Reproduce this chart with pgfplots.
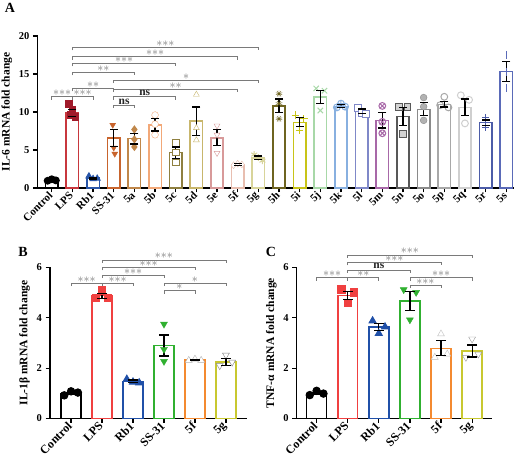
\documentclass[border=0pt]{standalone}
\usepackage{pgfplots}
\pgfplotsset{compat=1.18}
\usetikzlibrary{plotmarks}
\usepackage{fontspec}
\setmainfont{Liberation Serif}

\definecolor{cLPS}{HTML}{C8373D}
\definecolor{pLPS}{HTML}{A01A2A}
\definecolor{cRb}{HTML}{2855A8}
\definecolor{cSS}{HTML}{C8642D}
\definecolor{c5a}{HTML}{C0874A}
\definecolor{c5b}{HTML}{F2A878}
\definecolor{c5c}{HTML}{8F8040}
\definecolor{c5d}{HTML}{C8B66C}
\definecolor{c5e}{HTML}{D89A9A}
\definecolor{c5f}{HTML}{E8BEB0}
\definecolor{c5g}{HTML}{D8D49A}
\definecolor{c5h}{HTML}{6E6420}
\definecolor{c5i}{HTML}{C8C418}
\definecolor{c5j}{HTML}{A8D8A8}
\definecolor{c5k}{HTML}{88B0E0}
\definecolor{c5l}{HTML}{7F88C8}
\definecolor{c5m}{HTML}{A868A8}
\definecolor{c5n}{HTML}{585858}
\definecolor{c5o}{HTML}{8A8A8A}
\definecolor{c5p}{HTML}{A8A8A8}
\definecolor{c5q}{HTML}{CFCFCF}
\definecolor{c5r}{HTML}{4C5CA8}
\definecolor{c5s}{HTML}{5A6AB8}
\definecolor{bLPS}{HTML}{F04040}
\definecolor{bRb}{HTML}{2050A8}
\definecolor{bSS}{HTML}{30B030}
\definecolor{b5f}{HTML}{F48A30}
\definecolor{b5g}{HTML}{C8C830}
\definecolor{stargray}{HTML}{7A7A7A}

\pgfplotsset{
  prism/.style={
    scale only axis, axis x line*=bottom, axis y line*=left,
    axis line style={line width=1.3pt, black},
    tick style={line width=1.2pt, black}, major tick length=4.5pt, tick align=outside,
    ymin=0, clip=false,
    /pgf/number format/assume math mode=true,
    yticklabel style={font=\bfseries\fontsize{10.5}{12}\selectfont},
    xticklabel style={font=\bfseries\fontsize{11}{12}\selectfont, rotate=45, anchor=east, inner sep=1.5pt},
    ylabel style={font=\bfseries\fontsize{11.5}{13}\selectfont},
  },
  barA/.style={ybar, bar shift=0pt, bar width=0.6, fill=white, line width=1.5pt, draw=#1, forget plot},
  barB/.style={ybar, bar shift=0pt, bar width=0.64, fill=white, line width=1.5pt, draw=#1, forget plot},
  pts/.style={only marks, mark size=3.4pt, forget plot, mark options={solid, line width=1pt}},
  ebs/.style={black, line width=1.2pt, mark=-, mark size=#1, mark options={solid, line width=1.2pt}, forget plot},
}
\tikzset{
  brk/.style={stargray, line width=0.8pt},
  sig/.style={anchor=south, inner sep=0.6pt, text=stargray, font=\bfseries\fontsize{11.5}{11}\selectfont},
}
\newcommand{\st}{{\ast}}
\newcommand{\brk}[4]{\draw[brk] ([yshift=-3pt]axis cs:#1,#3) -- (axis cs:#1,#3) -- node[sig]{#4} (axis cs:#2,#3) -- ([yshift=-3pt]axis cs:#2,#3);}
\newcommand{\three}{$\st\st\st$}
\newcommand{\two}{$\st\st$}
\newcommand{\one}{$\st$}
\newcommand{\ns}{\textcolor{black!85}{ns}}
\newcommand{\ebA}[3]{\addplot[ebs=4pt] coordinates {(#1,#2) (#1,#3)};}
\newcommand{\ebB}[3]{\addplot[ebs=5pt] coordinates {(#1,#2) (#1,#3)};}

\begin{document}
\begin{tikzpicture}
\useasboundingbox (0,0) rectangle (524pt,462pt);

% ---------------- Panel A ----------------
\begin{axis}[prism, at={(37.5pt,274pt)}, anchor=south west, width=476pt, height=152pt,
  xmin=-0.69, xmax=22.35, ymax=20, ytick={0,5,10,15,20},
  xtick={0,...,22},
  xticklabels={Control,LPS,Rb1,SS-31,5a,5b,5c,5d,5e,5f,5g,5h,5i,5j,5k,5l,5m,5n,5o,5p,5q,5r,5s},
  ylabel={IL-6 mRNA fold change}]
\addplot[barA=black] coordinates {(0,1.02)};
\addplot[barA=cLPS] coordinates {(1,9.9)};
\addplot[barA=cRb] coordinates {(2,1.3)};
\addplot[barA=cSS] coordinates {(3,6.6)};
\addplot[barA=c5a] coordinates {(4,6.5)};
\addplot[barA=c5b] coordinates {(5,8.3)};
\addplot[barA=c5c] coordinates {(6,4.65)};
\addplot[barA=c5d] coordinates {(7,8.8)};
\addplot[barA=c5e] coordinates {(8,6.6)};
\addplot[barA=c5f] coordinates {(9,3.1)};
\addplot[barA=c5g] coordinates {(10,3.95)};
\addplot[barA=c5h] coordinates {(11,10.8)};
\addplot[barA=c5i] coordinates {(12,8.65)};
\addplot[barA=c5j] coordinates {(13,11.95)};
\addplot[barA=c5k] coordinates {(14,10.75)};
\addplot[barA=c5l] coordinates {(15,10.1)};
\addplot[barA=c5m] coordinates {(16,8.9)};
\addplot[barA=c5n] coordinates {(17,9.4)};
\addplot[barA=c5o] coordinates {(18,10.35)};
\addplot[barA=c5p] coordinates {(19,11.0)};
\addplot[barA=c5q] coordinates {(20,10.6)};
\addplot[barA=c5r] coordinates {(21,8.6)};
\addplot[barA=c5s] coordinates {(22,15.3)};
% points
\addplot[pts, black, mark=*] coordinates {(-0.2,0.95) (0,1.15) (0.2,1.0)};
\addplot[pts, pLPS, mark=square*] coordinates {(0.85,11.0) (1,10.3) (1.15,9.3) (0.95,9.6)};
\addplot[pts, cRb, mark=triangle*] coordinates {(1.8,1.55) (2,1.2) (2.2,1.25)};
\addplot[pts, cSS, mark=triangle*, mark options={rotate=180}] coordinates {(2.95,8.3) (3,5.3) (3.05,4.5)};
\addplot[pts, c5a, mark=diamond*] coordinates {(4,7.7) (4,6.4) (4,5.4)};
\addplot[pts, c5b, mark=*, mark options={fill=white}] coordinates {(5,9.6) (5,8.4) (5,7.0)};
\addplot[pts, c5c, mark=square*, mark options={fill=white}] coordinates {(6,6.0) (6,4.7) (6,3.4)};
\addplot[pts, c5d, mark=triangle*, mark options={fill=white}] coordinates {(7,12.3) (7,7.9) (7,6.3)};
\addplot[pts, c5e, mark=triangle*, mark options={fill=white, rotate=180}] coordinates {(8,8.2) (8,7.0) (8,4.6)};
\addplot[pts, c5f, mark=diamond*, mark options={fill=white}] coordinates {(8.8,3.0) (9,3.2) (9.2,3.1)};
\addplot[pts, c5g, mark=asterisk] coordinates {(9.8,4.4) (10,4.0) (10.2,3.6)};
\addplot[pts, c5h, mark=10-pointed star, mark options={fill=c5h}] coordinates {(11,12.4) (11,11.1) (11,9.1)};
\addplot[pts, c5i, mark=+, mark size=3.8pt] coordinates {(11.8,9.6) (12.2,9.1) (12,7.6)};
\addplot[pts, c5j, mark=x, mark size=3.8pt] coordinates {(12.8,13.1) (13.2,12.8) (13,10.2)};
\addplot[pts, c5k, mark=oplus] coordinates {(13.8,10.6) (14,11.1) (14.2,10.7)};
\addplot[pts, c5l, mark=square*, mark options={fill=white}] coordinates {(14.8,10.6) (15,9.9) (15.2,9.8)};
\addplot[pts, c5m, mark=otimes] coordinates {(16,10.8) (16,8.7) (16,7.2)};
\addplot[pts, c5n, mark=square*, mark options={fill=gray!35}] coordinates {(16.8,10.7) (17.2,10.7) (17,7.1)};
\addplot[pts, c5o, mark=*, mark options={fill=gray!60}] coordinates {(18,11.9) (18,10.7) (18,8.9)};
\addplot[pts, c5p, mark=o] coordinates {(19,12.0) (18.8,10.9) (19.2,10.6)};
\addplot[pts, c5q, mark=o] coordinates {(19.8,12.2) (20.2,11.6) (20,8.5)};
\addplot[pts, c5r, mark=+] coordinates {(21,9.3) (21,8.6) (21,8.0)};
\addplot[pts, c5s, mark=|, mark size=4pt] coordinates {(22,17.5) (22,15.3) (22,13.1)};
% error bars (mean - SEM, mean + SEM)
\ebA{0}{0.94}{1.10}
\ebA{1}{9.45}{10.35}
\ebA{2}{1.18}{1.42}
\ebA{3}{5.5}{7.7}
\ebA{4}{5.8}{7.2}
\ebA{5}{7.5}{9.1}
\ebA{6}{3.9}{5.4}
\ebA{7}{6.95}{10.65}
\ebA{8}{5.55}{7.65}
\ebA{9}{3.0}{3.2}
\ebA{10}{3.7}{4.2}
\ebA{11}{9.9}{11.7}
\ebA{12}{8.05}{9.25}
\ebA{13}{11.1}{12.8}
\ebA{14}{10.55}{10.95}
\ebA{15}{9.8}{10.4}
\ebA{16}{7.9}{9.9}
\ebA{17}{8.25}{10.55}
\ebA{18}{9.5}{11.2}
\ebA{19}{10.65}{11.35}
\ebA{20}{9.5}{11.7}
\ebA{21}{8.25}{8.95}
\ebA{22}{14.0}{16.6}
\brk{0}{1}{12.0}{\three}
\brk{1}{2}{12.0}{\three}
\brk{1}{3}{13.1}{\two}
\brk{1}{4}{15.2}{\two}
\brk{1}{6}{16.4}{\three}
\brk{1}{9}{17.3}{\three}
\brk{1}{10}{18.5}{\three}
\brk{3}{10}{14.2}{\one}
\brk{3}{9}{13.0}{\two}
\brk{3}{6}{12.0}{\ns}
\brk{3}{4}{10.9}{\ns}
\end{axis}

% ---------------- Panel B ----------------
\begin{axis}[prism, at={(50pt,43.5pt)}, anchor=south west, width=197pt, height=151pt,
  xmin=-0.68, xmax=5.68, ymax=6, ytick={0,2,4,6},
  xtick={0,...,5}, xticklabels={Control,LPS,Rb1,SS-31,5f,5g},
  xticklabel style={font=\bfseries\fontsize{12}{13}\selectfont},
  ylabel={IL-1β mRNA fold change}]
\addplot[barB=black] coordinates {(0,1.0)};
\addplot[barB=bLPS] coordinates {(1,4.88)};
\addplot[barB=bRb] coordinates {(2,1.48)};
\addplot[barB=bSS] coordinates {(3,2.9)};
\addplot[barB=b5f] coordinates {(4,2.32)};
\addplot[barB=b5g] coordinates {(5,2.25)};
\addplot[pts, black, mark=*, mark size=3.7pt] coordinates {(-0.22,0.92) (0,1.08) (0.22,1.03)};
\addplot[pts, bLPS, mark=square*, mark size=3.7pt] coordinates {(0.8,4.78) (1,5.08) (1.2,4.78)};
\addplot[pts, bRb, mark=triangle*, mark size=4pt] coordinates {(1.8,1.56) (2,1.45) (2.2,1.42)};
\addplot[pts, bSS, mark=triangle*, mark size=4pt, mark options={rotate=180}] coordinates {(3,3.75) (3,2.75) (3,2.27)};
\addplot[pts, gray!60, mark=triangle*, mark size=4pt, mark options={fill=white}] coordinates {(3.8,2.31) (4,2.36) (4.2,2.31)};
\addplot[pts, gray, mark=triangle*, mark size=4pt, mark options={fill=white, rotate=180}] coordinates {(4.8,2.1) (5,2.52) (5.2,2.24)};
\ebB{0}{0.96}{1.04}
\ebB{1}{4.78}{4.98}
\ebB{2}{1.43}{1.53}
\ebB{3}{2.48}{3.32}
\ebB{4}{2.29}{2.35}
\ebB{5}{2.12}{2.38}
\brk{0}{1}{5.38}{\three}
\brk{1}{2}{5.38}{\three}
\brk{1}{3}{5.7}{\three}
\brk{1}{4}{6.0}{\three}
\brk{1}{5}{6.3}{\three}
\brk{3}{5}{5.38}{\one}
\brk{3}{4}{5.08}{\one}
\end{axis}

% ---------------- Panel C ----------------
\begin{axis}[prism, at={(296.7pt,43.5pt)}, anchor=south west, width=195pt, height=151pt,
  xmin=-0.64, xmax=5.63, ymax=6, ytick={0,2,4,6},
  xtick={0,...,5}, xticklabels={Control,LPS,Rb1,SS-31,5f,5g},
  xticklabel style={font=\bfseries\fontsize{12}{13}\selectfont},
  ylabel={TNF-α mRNA fold change}]
\addplot[barB=black] coordinates {(0,0.99)};
\addplot[barB=bLPS] coordinates {(1,4.89)};
\addplot[barB=bRb] coordinates {(2,3.64)};
\addplot[barB=bSS] coordinates {(3,4.67)};
\addplot[barB=b5f] coordinates {(4,2.79)};
\addplot[barB=b5g] coordinates {(5,2.68)};
\addplot[pts, black, mark=*, mark size=3.7pt] coordinates {(-0.22,0.93) (0,1.1) (0.22,0.99)};
\addplot[pts, bLPS, mark=square*, mark size=3.7pt] coordinates {(0.8,5.12) (1,4.58) (1.2,5.0)};
\addplot[pts, bRb, mark=triangle*, mark size=4pt] coordinates {(1.8,3.88) (2,3.38) (2.2,3.64)};
\addplot[pts, bSS, mark=triangle*, mark size=4pt, mark options={rotate=180}] coordinates {(2.8,5.12) (3,3.92) (3.2,5.01)};
\addplot[pts, gray!50, mark=triangle*, mark size=4pt, mark options={fill=white}] coordinates {(4,3.36) (3.8,2.43) (4.2,2.56)};
\addplot[pts, gray!80, mark=triangle*, mark size=4pt, mark options={fill=white, rotate=180}] coordinates {(5,3.16) (4.8,2.43) (5.2,2.56)};
\ebB{0}{0.94}{1.04}
\ebB{1}{4.72}{5.06}
\ebB{2}{3.49}{3.79}
\ebB{3}{4.29}{5.05}
\ebB{4}{2.49}{3.09}
\ebB{5}{2.44}{2.92}
\brk{0}{1}{5.6}{\three}
\brk{1}{2}{5.6}{\two}
\brk{1}{3}{5.9}{\ns}
\brk{1}{4}{6.2}{\three}
\brk{1}{5}{6.5}{\three}
\brk{3}{5}{5.6}{\three}
\brk{3}{4}{5.3}{\three}
\end{axis}

\node[font=\bfseries\fontsize{14}{14}\selectfont] at (10pt,454pt) {A};
\node[font=\bfseries\fontsize{14}{14}\selectfont] at (23pt,210pt) {B};
\node[font=\bfseries\fontsize{14}{14}\selectfont] at (271pt,210pt) {C};
\end{tikzpicture}
\end{document}
